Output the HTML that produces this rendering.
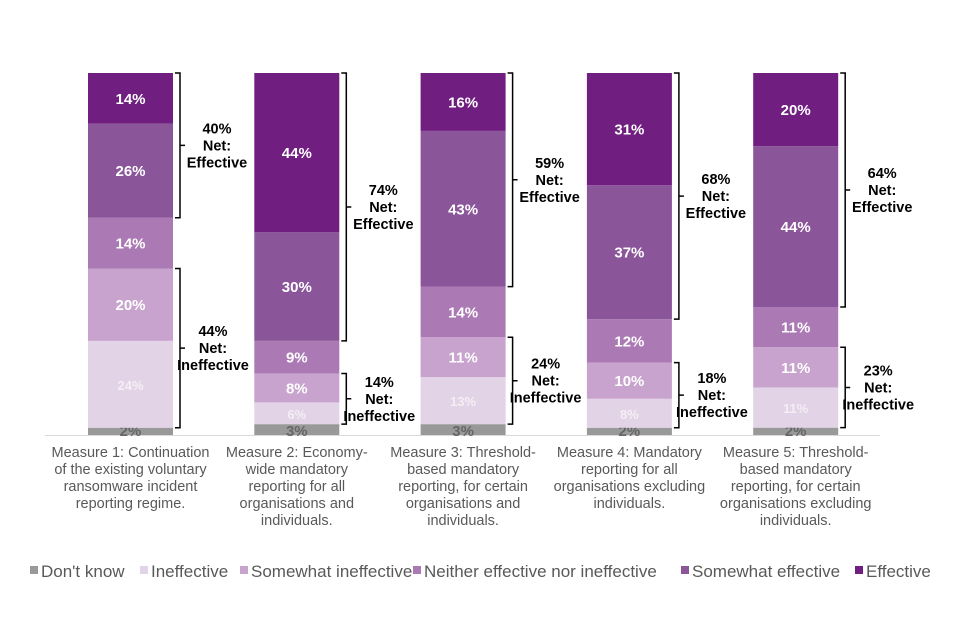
<!DOCTYPE html>
<html><head><meta charset="utf-8"><style>
body{margin:0;background:#fff;font-family:"Liberation Sans",Arial,sans-serif}
svg{display:block}
</style></head><body>
<svg id="c" width="960" height="640"></svg>
<script>
const categories=[["Measure 1: Continuation","of the existing voluntary","ransomware incident","reporting regime."],["Measure 2: Economy-","wide mandatory","reporting for all","organisations and","individuals."],["Measure 3: Threshold-","based mandatory","reporting, for certain","organisations and","individuals."],["Measure 4: Mandatory","reporting for all","organisations excluding","individuals."],["Measure 5: Threshold-","based mandatory","reporting, for certain","organisations excluding","individuals."]];
const seriesNames=["Don't know","Ineffective","Somewhat ineffective","Neither effective nor ineffective","Somewhat effective","Effective"];
const dontKnow=[2,3,3,2,2];
const ineffective=[24,6,13,8,11];
const somewhatIneffective=[20,8,11,10,11];
const neither=[14,9,14,12,11];
const somewhatEffective=[26,30,43,37,44];
const effective=[14,44,16,31,20];
const netEffective=[40,74,59,68,64];
const netIneffective=[44,14,24,18,23];
const series=[dontKnow,ineffective,somewhatIneffective,neither,somewhatEffective,effective];
const colors=["#999999","#e3d3e6","#c8a3ce","#ab7ab5","#8b5599","#701f80"];
const labelColors=["#666666","#f4eef5","#ffffff","#ffffff","#ffffff","#ffffff"];
const NS="http://www.w3.org/2000/svg";
const svg=document.getElementById('c');
const bottomY=435, topY=73, x0=88, step=166.3, bw=85;
const xb=i=>x0+i*step;
function el(t,a,p){const e=document.createElementNS(NS,t);for(const k in a)e.setAttribute(k,a[k]);(p||svg).appendChild(e);return e;}
const axis=el('line',{x1:45,x2:880,y1:bottomY+0.5,y2:bottomY+0.5,stroke:'#d9d9d9','stroke-width':1});


function bracket(x,y1,y2,name){
  const mid=(y1+y2)/2;
  const p=el('path',{d:`M${x} ${y1} H${x+5} V${y2} H${x} M${x+5} ${mid} H${x+10}`,fill:'none',stroke:'#000','stroke-width':1.5});
  
  
}
function netLabel(cx,cy,lines,name){
  const t=el('text',{x:cx,'text-anchor':'middle','font-size':14.5,'font-weight':'bold',fill:'#000'});
  
  
  lines.forEach((l,k)=>{const s=el('tspan',{x:cx,y:cy-17+k*17+5},t);s.textContent=l;});
}
for(let i=0;i<categories.length;i++){
  let total=0;for(let s=0;s<series.length;s++)total+=series[s][i];
  const yS=v=>bottomY-(bottomY-topY)*v/total;
  let cum=0;const x=xb(i);
  for(let s=0;s<series.length;s++){
    const v=series[s][i];
    const r=el('rect',{x:x,y:yS(cum+v),width:bw,height:yS(cum)-yS(cum+v),fill:colors[s]});
    
    
    const ly=s===0?yS(cum)+1:(yS(cum)+yS(cum+v))/2+5.5;
    const t=el('text',{x:x+bw/2,y:ly,'text-anchor':'middle','font-size':s===1?13:15,'font-weight':'bold',fill:labelColors[s]});
    t.textContent=v+'%';
    
    
    cum+=v;
  }
  const bx=x+bw+2;
  const e1=yS(total), e2=yS(total-effective[i]-somewhatEffective[i]);
  bracket(bx,e1,e2,'net-effective-bracket');
  netLabel(bx+42,(e1+e2)/2,[netEffective[i]+'%','Net:','Effective'],'net-effective-label');
  const n1=yS(dontKnow[i]+ineffective[i]+somewhatIneffective[i]), n2=yS(dontKnow[i]);
  bracket(bx,n1,n2,'net-ineffective-bracket');
  netLabel(bx+38,(n1+n2)/2,[netIneffective[i]+'%','Net:','Ineffective'],'net-ineffective-label');
  const ct=el('text',{'text-anchor':'middle','font-size':14.5,fill:'#595959'});
  
  
  categories[i].forEach((l,k)=>{const s=el('tspan',{x:x+bw/2,y:457+k*17},ct);s.textContent=l;});
}
const legX=[30,140,240,413,681,855];
seriesNames.forEach((n,s)=>{
  const g=el('g',{});
  
  
  el('rect',{x:legX[s],y:566,width:8,height:8,fill:colors[s]},g);
  const t=el('text',{x:legX[s]+11,y:577,'font-size':17,fill:'#595959'},g);
  t.textContent=n;
});
</script>
</body></html>
